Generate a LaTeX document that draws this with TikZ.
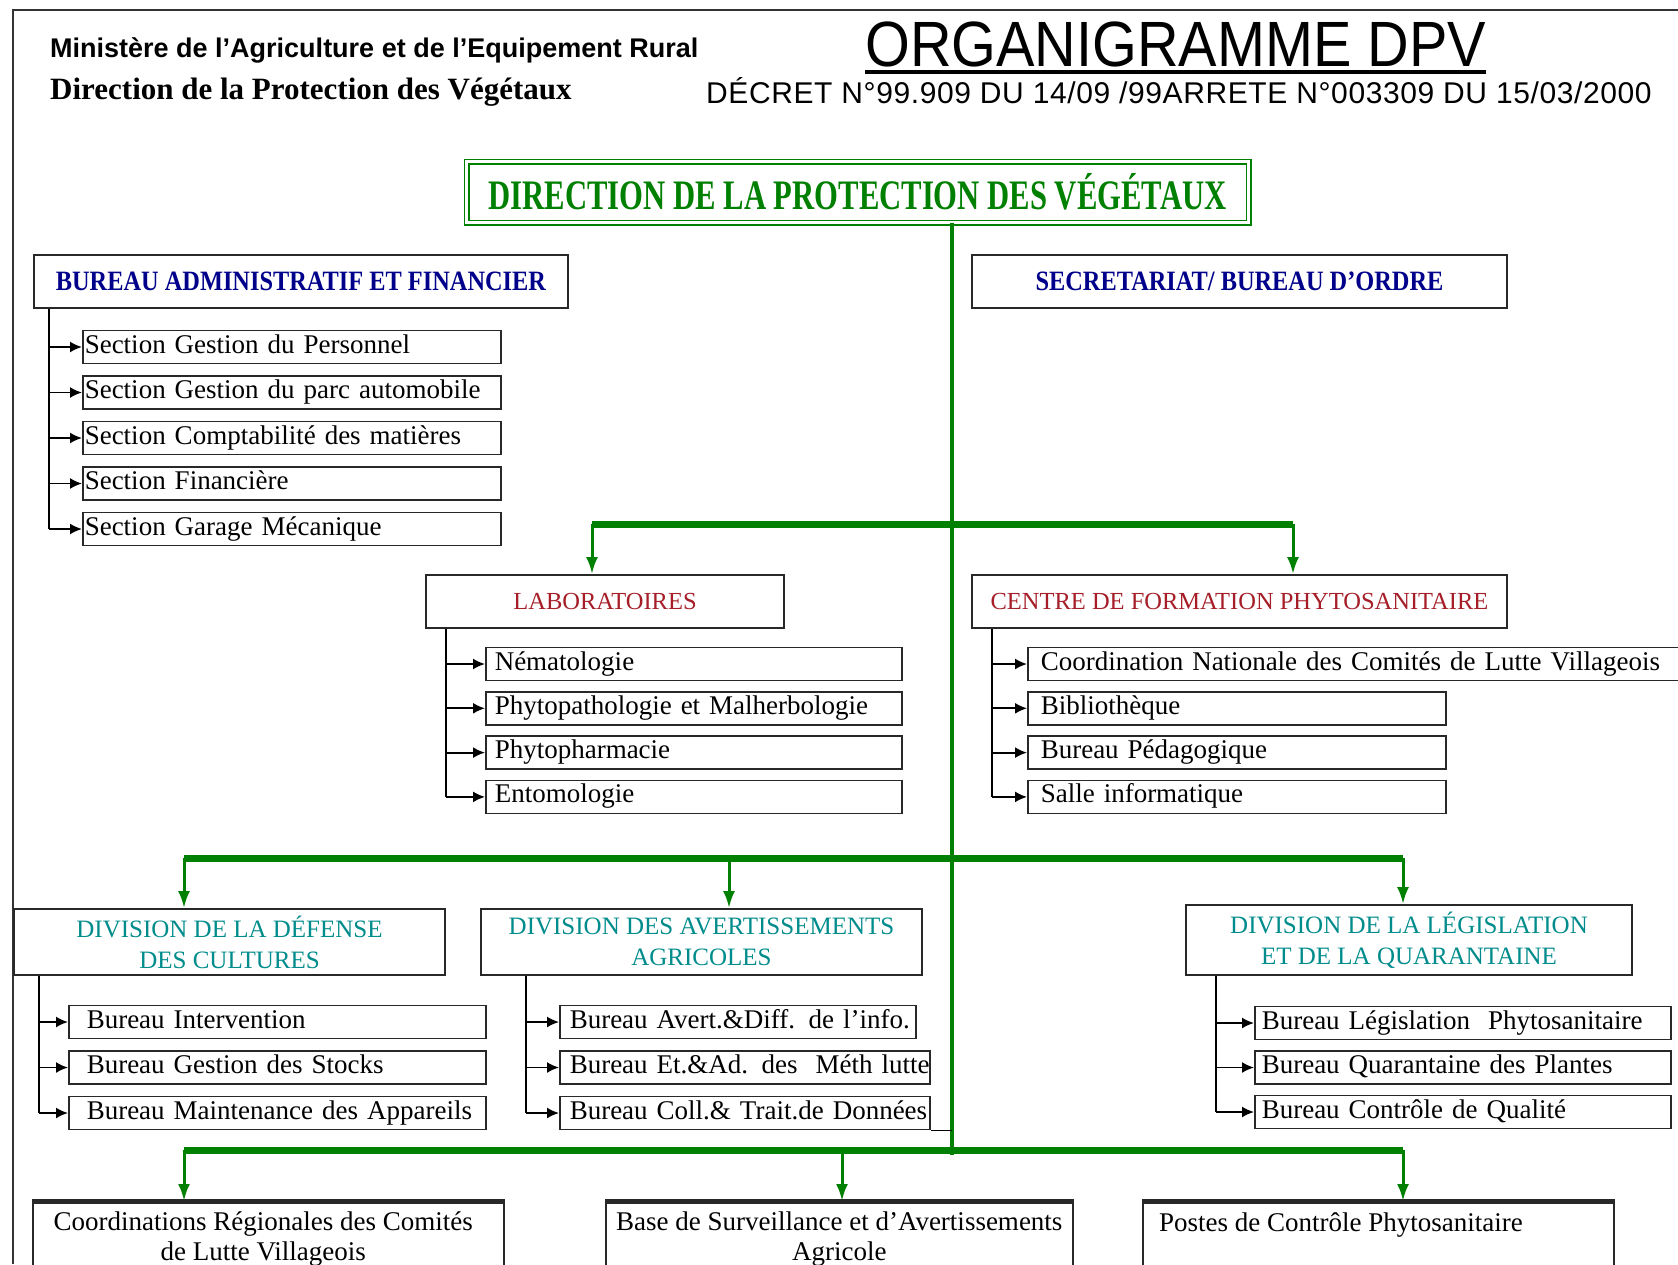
\documentclass[tikz,border=0pt]{standalone}
\usepackage{fontspec}
\setmainfont{Liberation Serif}
\newfontfamily\hsans{Liberation Sans}
\newfontfamily\orgfont[FakeStretch=0.9]{Liberation Sans}
\newfontfamily\decfont[LetterSpace=2]{Liberation Sans}
\newfontfamily\dpvfont[FakeStretch=0.73]{Liberation Serif}
\newfontfamily\bureaufont[FakeStretch=0.87]{Liberation Serif}
\usetikzlibrary{arrows.meta}
\definecolor{dpvgreen}{RGB}{0,128,0}
\definecolor{bafblue}{RGB}{0,0,139}
\definecolor{labred}{RGB}{165,30,40}
\definecolor{divteal}{RGB}{0,140,140}
\definecolor{boxgray}{RGB}{40,40,40}

\begin{document}
\begin{tikzpicture}[x=1pt, y=-1pt,
  every node/.style={inner sep=0pt},
  unitbox/.style={draw=boxgray, line width=1.8pt, align=center},
  subbox/.style={draw=boxgray, line width=1.5pt, anchor=west, minimum height=33pt,
    text height=19pt, text depth=7pt, align=left, font=\fontsize{27}{31}\selectfont},
  brk/.style={line width=1.8pt},
  brkarr/.style={line width=1.8pt, -{Latex[length=12pt, width=11pt]}},
  trunk/.style={dpvgreen, line width=4pt},
  gbar/.style={dpvgreen, line width=7pt},
  gdrop/.style={dpvgreen, line width=3pt, -{Latex[length=17pt, width=12pt]}},
  divtxt/.style={unitbox, text=divteal, font=\fontsize{25}{31}\selectfont},
  labtxt/.style={unitbox, text=labred, font=\fontsize{24.5}{28}\selectfont},
  baftxt/.style={unitbox, text=bafblue, font=\bureaufont\bfseries\fontsize{28}{30}\selectfont},
  basebox/.style={draw=boxgray, line width=1.5pt, anchor=north west, minimum height=120pt},
  basetxt/.style={align=center, font=\fontsize{27}{30}\selectfont}
]

  \useasboundingbox (0,0) rectangle (1678,1264);
  \fill[white] (0,0) rectangle (1678,1264);
  \clip (0,0) rectangle (1678,1264);

  \draw[line width=2pt, black!80] (13,1264) -- (13,10) -- (1678,10);

  \node[anchor=west, font=\hsans\bfseries\fontsize{27}{30}\selectfont] (min) at (50,50)
    {Ministère de l’Agriculture et de l’Equipement Rural};
  \node[anchor=west, font=\bfseries\fontsize{31}{34}\selectfont] (dir) at (50,92)
    {Direction de la Protection des Végétaux};
  \node[anchor=base west, font=\orgfont\fontsize{64}{70}\selectfont] (org) at (865,66) {ORGANIGRAMME DPV};
  \draw[line width=4pt] ([yshift=-6pt]org.base west) -- ([yshift=-6pt]org.base east);
  \node[anchor=base west, font=\decfont\fontsize{30}{32}\selectfont] (dec) at (706,103)
    {DÉCRET N°99.909 DU 14/09 /99ARRETE N°003309 DU 15/03/2000};

  \node[draw=dpvgreen, line width=1.5pt, double=white, double distance=3pt,
    minimum width=782pt, minimum height=61pt, text=dpvgreen,
    font=\dpvfont\bfseries\fontsize{42}{44}\selectfont] (dpv) at (857.5,192)
    {DIRECTION DE LA PROTECTION DES VÉGÉTAUX};

  \node[baftxt, minimum width=534pt, minimum height=53pt] (baf) at (301,281.5)
    {BUREAU ADMINISTRATIF ET FINANCIER};
  \node[baftxt, minimum width=535pt, minimum height=53pt] (sec) at (1239.5,281.5)
    {SECRETARIAT/ BUREAU D’ORDRE};

  \foreach \txt [count=\i] in {Section Gestion du Personnel, Section Gestion du parc automobile,
      Section Comptabilité des matières, Section Financière, Section Garage Mécanique}
    \node[subbox, inner xsep=2pt, text width=414pt] (baf\i) at ({82},{347+45.5*(\i-1)}) {\mbox{\txt}};
  \coordinate (bafk) at ([xshift=16pt]baf.south west);
  \draw[brk] (bafk) -- (bafk |- baf5.west);
  \foreach \i in {1,...,5}
    \draw[brkarr] (bafk |- baf\i.west) -- (baf\i.west);

  \node[labtxt, minimum width=358pt, minimum height=53pt] (lab) at (605,601.5) {LABORATOIRES};
  \node[labtxt, minimum width=535pt, minimum height=53pt] (cfp) at (1239.5,601.5)
    {CENTRE DE FORMATION PHYTOSANITAIRE};

  \foreach \txt [count=\i] in {Nématologie, Phytopathologie et Malherbologie, Phytopharmacie, Entomologie}
    \node[subbox, inner xsep=9pt, text width=398pt] (lab\i) at ({485},{664+44.3*(\i-1)}) {\mbox{\txt}};
  \coordinate (labk) at ([xshift=21pt]lab.south west);
  \draw[brk] (labk) -- (labk |- lab4.west);
  \foreach \i in {1,...,4}
    \draw[brkarr] (labk |- lab\i.west) -- (lab\i.west);

  \foreach \txt/\w [count=\i] in {Coordination Nationale des Comités de Lutte Villageois/647,
      Bibliothèque/392, Bureau Pédagogique/392, Salle informatique/392}
    \node[subbox, inner xsep=13pt, text width=\w pt] (cfp\i) at ({1027},{664+44.3*(\i-1)}) {\mbox{\txt}};
  \coordinate (cfpk) at ([xshift=21pt]cfp.south west);
  \draw[brk] (cfpk) -- (cfpk |- cfp4.west);
  \foreach \i in {1,...,4}
    \draw[brkarr] (cfpk |- cfp\i.west) -- (cfp\i.west);

  \node[divtxt, minimum width=431pt, minimum height=66pt] (ddc) at (229.5,942)
    {DIVISION DE LA DÉFENSE\\DES CULTURES};
  \node[divtxt, minimum width=441pt, minimum height=66pt] (daa) at (701.5,942)
    {DIVISION DES AVERTISSEMENTS\\AGRICOLES};
  \node[divtxt, minimum width=446pt, minimum height=70pt] (dlq) at (1409,940)
    {DIVISION DE LA LÉGISLATION\\ET DE LA QUARANTAINE};

  \foreach \txt [count=\i] in {Bureau Intervention, Bureau Gestion des Stocks, Bureau Maintenance des Appareils}
    \node[subbox, inner xsep=18pt, text width=381pt] (ddc\i) at ({68},{1022+45.5*(\i-1)}) {\mbox{\txt}};
  \coordinate (ddck) at ([xshift=26pt]ddc.south west);
  \draw[brk] (ddck) -- (ddck |- ddc3.west);
  \foreach \i in {1,...,3}
    \draw[brkarr] (ddck |- ddc\i.west) -- (ddc\i.west);

  \foreach \txt/\w [count=\i] in {Bureau Avert.\&Diff. de l'info./336,
      Bureau Et.\&Ad. des\ \ Méth lutte/350, Bureau Coll.\& Trait.de Données/350}
    \node[subbox, inner xsep=10pt, text width=\w pt] (daa\i) at ({559},{1022+45.5*(\i-1)}) {\mbox{\txt}};
  \coordinate (daak) at ([xshift=46pt]daa.south west);
  \draw[brk] (daak) -- (daak |- daa3.west);
  \foreach \i in {1,...,3}
    \draw[brkarr] (daak |- daa\i.west) -- (daa\i.west);

  \foreach \txt [count=\i] in {Bureau Législation\ \ Phytosanitaire, Bureau Quarantaine des Plantes,
      Bureau Contrôle de Qualité}
    \node[subbox, inner xsep=7pt, text width=402pt] (dlq\i) at ({1254},{1023+44.5*(\i-1)}) {\mbox{\txt}};
  \coordinate (dlqk) at ([xshift=31pt]dlq.south west);
  \draw[brk] (dlqk) -- (dlqk |- dlq3.west);
  \foreach \i in {1,...,3}
    \draw[brkarr] (dlqk |- dlq\i.west) -- (dlq\i.west);

  \node[basebox, minimum width=471pt] (crl) at (32,1201) {};
  \node[basebox, minimum width=467pt] (bsa) at (605,1201) {};
  \node[basebox, minimum width=471pt] (pcp) at (1142,1201) {};
  \foreach \b in {crl, bsa, pcp}
    \draw[line width=5pt, boxgray] (\b.north west) -- (\b.north east);
  \node[basetxt, anchor=north] (crltxt) at ([xshift=-5pt, yshift=-11pt]crl.north)
    {Coordinations Régionales des Comités\\de Lutte Villageois};
  \node[basetxt, anchor=north] (bsatxt) at ([yshift=-11pt]bsa.north)
    {Base de Surveillance et d’Avertissements\\Agricole};
  \node[basetxt, anchor=north west] (pcptxt) at ([xshift=17pt, yshift=-11pt]pcp.north west)
    {Postes de Contrôle Phytosanitaire};

  \coordinate (trk) at (952,0);
  \draw[trunk] (dpv.south -| trk) -- (952,1155);
  \draw[line width=1.2pt] (daa3.south east) -- (daa3.south -| trk);

  \coordinate (b1l) at (592,524);
  \coordinate (b1r) at (1293,524);
  \draw[gbar] (b1l) -- (b1r);
  \draw[gdrop] (b1l) -- (b1l |- lab.north);
  \draw[gdrop] (b1r) -- (b1r |- cfp.north);

  \coordinate (b2l) at (184,858);
  \coordinate (b2m) at (729,858);
  \coordinate (b2r) at (1403,858);
  \draw[gbar] (b2l) -- (b2r);
  \draw[gdrop] (b2l) -- (b2l |- ddc.north);
  \draw[gdrop] (b2m) -- (b2m |- daa.north);
  \draw[gdrop] (b2r) -- (b2r |- dlq.north);

  \coordinate (b3l) at (184,1150);
  \coordinate (b3m) at (842,1150);
  \coordinate (b3r) at (1403,1150);
  \draw[gbar] (b3l) -- (b3r);
  \draw[gdrop] (b3l) -- (b3l |- crl.north);
  \draw[gdrop] (b3m) -- (b3m |- bsa.north);
  \draw[gdrop] (b3r) -- (b3r |- pcp.north);

\end{tikzpicture}
\end{document}
